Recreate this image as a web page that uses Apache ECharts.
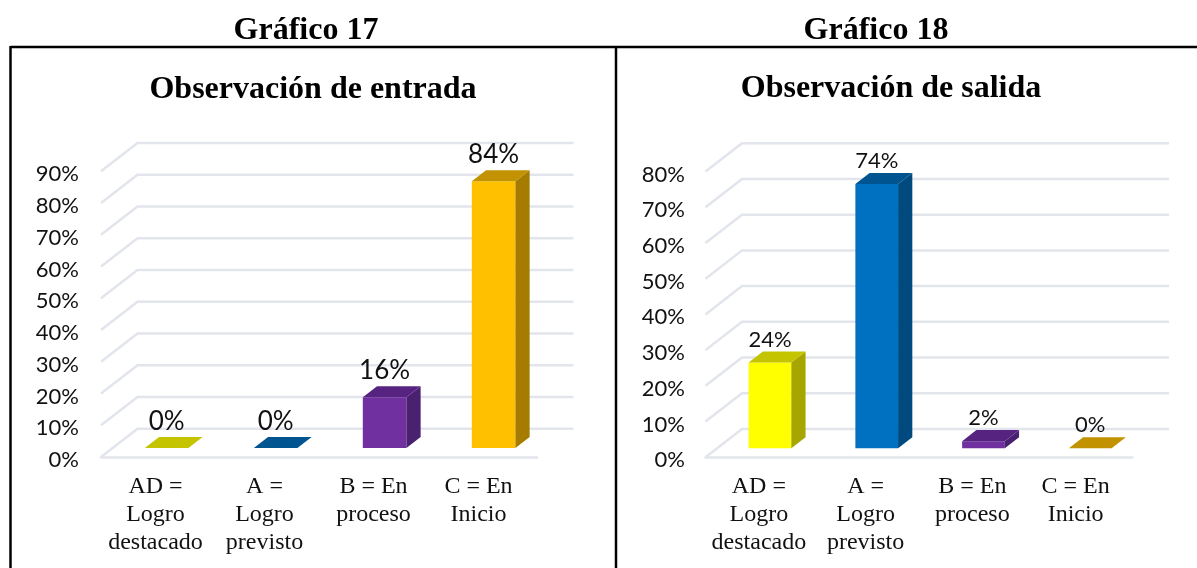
<!DOCTYPE html>
<html>
<head>
<meta charset="utf-8">
<style>html,body{margin:0;padding:0;background:#fff}#c{width:1197px;height:568px}</style>
<script src="https://cdn.jsdelivr.net/npm/echarts@6/dist/echarts.min.js"></script>
</head>
<body>
<div id="c"></div>
<script>
const categories = ['AD =\nLogro\ndestacado', 'A =\nLogro\nprevisto', 'B = En\nproceso', 'C = En\nInicio'];
const valuesEntrada = [0, 0, 16, 84];
const valuesSalida = [24, 74, 2, 0];
const ticksEntrada = [0, 10, 20, 30, 40, 50, 60, 70, 80, 90];
const ticksSalida = [0, 10, 20, 30, 40, 50, 60, 70, 80];
const captions = ['Gráfico 17', 'Gráfico 18'];
const chartTitles = ['Observación de entrada', 'Observación de salida'];
const facesEntrada = [
  ['#FFFF00', '#A6A600', '#C4C400'],
  ['#0070C0', '#004A80', '#005590'],
  ['#7030A0', '#4A2070', '#562480'],
  ['#FFC000', '#A67C00', '#C29200']
];
const facesSalida = facesEntrada;

const DEPTH_X = 36.5, DEPTH_Y = 28.3;      // chart wall depth
const BAR_SHIFT = 0.318, BAR_DEPTH = 0.39;  // position and depth of bars, as a share of the wall depth
const GRID_LINE = '#E2E5EC';
const SERIF = '"Liberation Serif"';

function wallSeries(idx, ticks) {
  return {
    type: 'custom', xAxisIndex: idx, yAxisIndex: idx, silent: true, z: 1,
    clip: false,
    data: ticks.map(t => [t]),
    encode: { y: 0 },
    renderItem(params, api) {
      const p = api.coord([0, api.value(0)]);
      const cs = params.coordSys;
      const x0 = cs.x, x1 = cs.x + cs.width, y = p[1];
      return {
        type: 'polyline', silent: true,
        shape: { points: [[x0, y], [x0 + DEPTH_X, y - DEPTH_Y], [x1 + DEPTH_X, y - DEPTH_Y]] },
        style: { fill: null, stroke: GRID_LINE, lineWidth: 2.5 }
      };
    }
  };
}

function barSeries(idx, values, faces, labelSize, labelGap) {
  return {
    type: 'custom', xAxisIndex: idx, yAxisIndex: idx, z: 5, clip: false,
    data: values.map((v, i) => [i, v]),
    encode: { x: 0, y: 1 },
    renderItem(params, api) {
      const i = api.value(0), v = api.value(1);
      const top = api.coord([i, v]), base = api.coord([i, 0]);
      const band = api.size([1, 0])[0];
      const w = band * 0.4;
      const sx = DEPTH_X * BAR_SHIFT, sy = DEPTH_Y * BAR_SHIFT;
      const dx = DEPTH_X * BAR_DEPTH, dy = DEPTH_Y * BAR_DEPTH;
      const l = base[0] + sx - w / 2 - 0.5, r = l + w;
      const yb = base[1] - sy, yt = top[1] - sy;
      const c = faces[i];
      const kids = [];
      if (v > 0) {
        kids.push({ type: 'rect', shape: { x: l, y: yt, width: w, height: yb - yt }, style: { fill: c[0] } });
        kids.push({ type: 'polygon', shape: { points: [[r, yb], [r + dx, yb - dy], [r + dx, yt - dy], [r, yt]] }, style: { fill: c[1] } });
      }
      kids.push({ type: 'polygon', shape: { points: [[l, yt], [l + dx, yt - dy], [r + dx, yt - dy], [r, yt]] }, style: { fill: c[2] } });
      kids.push({
        type: 'text',
        style: {
          x: (l + r) / 2, y: yt - labelGap, text: v + '%', align: 'center', verticalAlign: 'middle',
          fontFamily: 'Lato', fontSize: labelSize, fill: '#111'
        }
      });
      return { type: 'group', children: kids };
    }
  };
}

function frameLine(x1, y1, x2, y2) {
  return { type: 'line', shape: { x1, y1, x2, y2 }, style: { stroke: '#000', lineWidth: 2.5 }, z: 20 };
}

function xAxis(idx, lastShift, margin) {
  return {
    type: 'category', gridIndex: idx, data: categories,
    axisTick: { show: false },
    axisLine: { show: true, lineStyle: { color: GRID_LINE, width: 2.5 } },
    axisLabel: {
      interval: 0, margin, fontFamily: SERIF, fontSize: 24, lineHeight: 28, color: '#111',
      verticalAlign: 'top',
      formatter: (v, i) => v.split('\n').map(s => '{' + (i === 3 ? 's' : 'd') + '|' + s + '}').join('\n'),
      rich: {
        d: { fontFamily: SERIF, fontSize: 24, lineHeight: 28, color: '#111' },
        s: { fontFamily: SERIF, fontSize: 24, lineHeight: 28, color: '#111', padding: [0, lastShift, 0, 0] }
      }
    }
  };
}

function yAxis(idx, ticks, margin) {
  return {
    type: 'value', gridIndex: idx, min: ticks[0], max: ticks[ticks.length - 1], interval: 10,
    axisLine: { show: false }, axisTick: { show: false }, splitLine: { show: false },
    axisLabel: {
      margin, fontFamily: 'Lato', fontSize: 22, color: '#111', verticalAlign: 'top', lineHeight: 6,
      formatter: '{value}%'
    }
  };
}

function heading(text, x, y, size) {
  return {
    text, left: x, top: y, textAlign: 'center', textVerticalAlign: 'middle',
    textStyle: { fontFamily: SERIF, fontWeight: 'bold', fontSize: size, color: '#000' }, padding: 0
  };
}

const chart = echarts.init(document.getElementById('c'), null, { renderer: 'canvas' });
chart.setOption({
  animation: false,
  backgroundColor: '#fff',
  title: [
    heading(captions[0], 306, 31, 32),
    heading(captions[1], 876, 31, 32),
    heading(chartTitles[0], 313, 89.5, 32),
    heading(chartTitles[1], 891, 88.5, 32)
  ],
  grid: [
    { left: 101, top: 171.3, width: 436, height: 285.7 },
    { left: 705.5, top: 171.5, width: 427, height: 285.8 }
  ],
  xAxis: [xAxis(0, 8, 16), xAxis(1, 7, 15.5)],
  yAxis: [yAxis(0, ticksEntrada, 22), yAxis(1, ticksSalida, 20.5)],
  series: [
    wallSeries(0, ticksEntrada),
    wallSeries(1, ticksSalida),
    barSeries(0, valuesEntrada, facesEntrada, 26, 26.5),
    barSeries(1, valuesSalida, facesSalida, 22, 23)
  ],
  graphic: [
    frameLine(10.5, 47, 1197, 47),
    frameLine(10.5, 46, 10.5, 568),
    frameLine(616, 46, 616, 568)
  ]
});
</script>
</body>
</html>
